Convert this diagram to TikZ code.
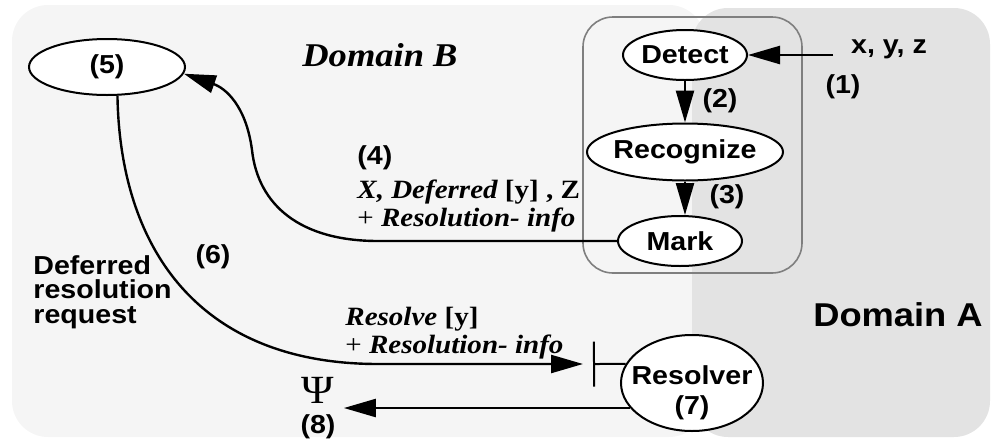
\documentclass[tikz,border=0pt]{standalone}
\usepackage{fontspec}
\setmainfont{Liberation Serif}[FakeStretch=1.1]
\newfontfamily\lsans{Liberation Sans}[FakeStretch=1.1]
\usetikzlibrary{shapes.geometric,arrows.meta}

\definecolor{domB}{HTML}{F5F5F5}
\definecolor{domA}{HTML}{E3E3E3}
\definecolor{grpline}{HTML}{7F7F7F}

\newcommand{\numfont}{\lsans\bfseries\upshape\fontsize{13}{15}\selectfont}
\newcommand{\msgfont}{\rmfamily\bfseries\itshape\fontsize{13.2}{14}\selectfont}
\newcommand{\upr}[1]{{\upshape #1}}

\begin{document}
\begin{tikzpicture}[x=0.5pt, y=-0.5pt]

\tikzstyle{oval}=[ellipse, draw, fill=white, line width=1pt, inner ysep=0pt, inner xsep=-8pt, font=\numfont]
\tikzstyle{numtxt}=[inner sep=0pt, font=\numfont]
\tikzstyle{msgtxt}=[inner sep=0pt, align=left, font=\msgfont]
\tikzstyle{arrow}=[-{Triangle[length=16pt,width=9pt]}, line width=1.2pt]

\useasboundingbox (0,0) rectangle (993,440);
\fill[domB, rounded corners=18pt] (12,5) rectangle (705,437);
\fill[domA, rounded corners=18pt] (692,8) rectangle (990,437);
\draw[grpline, line width=0.8pt, rounded corners=15pt] (583,17) rectangle (802,273);

\node (domb) [font=\rmfamily\bfseries\itshape\fontsize{16.6}{18}\selectfont, anchor=base] at (380,66) {Domain B};
\node (doma) [font=\lsans\bfseries\fontsize{16.5}{18}\selectfont, anchor=base] at (898,326) {Domain A};

\node (detect) [oval, minimum width=62pt, minimum height=25pt] at (685,55) {Detect};
\node (recog) [oval, minimum width=98pt, minimum height=28.5pt] at (685,152) {Recognize};
\node (mark) [oval, minimum width=62pt, minimum height=25pt] at (680,241) {Mark};
\node (resolver) [oval, minimum width=71pt, minimum height=48pt,
  label={[numtxt, align=center, yshift=-5pt]center:Resolver\\(7)}] at (692,383) {};
\node (n5) [oval, minimum width=78pt, minimum height=28pt] at (107,67) {(5)};

\node (xyz) [numtxt, anchor=base] at (889,53) {x, y, z};
\node (l1) [numtxt] at (843,87) {(1)};
\node (l2) [numtxt] at (720,101) {(2)};
\node (l3) [numtxt] at (727,197) {(3)};
\node (l6) [numtxt] at (213,257) {(6)};
\node (defreq) [numtxt, align=left, anchor=north west, font=\numfont\fontsize{13}{12.3}\selectfont] at (33,255) {Deferred\\resolution\\request};
\node (msg4) [msgtxt, anchor=north west] at (357,145) {{\numfont (4)}\\[3pt]X, Deferred \upr{[y] , Z}\\{\mdseries\upshape +} Resolution- info};
\node (msg6) [msgtxt, anchor=north west] at (345,307) {Resolve \upr{[y]}\\{\mdseries\upshape +} Resolution- info};
\node (psi) [align=center, inner sep=4pt] at (318,408) {{\fontsize{20}{20}\selectfont Ψ}\\[3pt]{\numfont (8)}};

\coordinate (in) at (833,55);
\coordinate (bar) at (593,364);

\draw [arrow] (in) -- (detect);
\draw [arrow] (detect) -- (recog);
\draw [arrow] (recog.south) -- (recog.south |- mark.north);
\draw [arrow] (mark.west) -- (378,241) .. controls (300,241) and (258,205) .. (252,150) .. controls (246,105) and (225,88) .. (n5.-5);
\draw [arrow] (n5.-70) .. controls (120,250) and (200,364) .. (378,364) -- ([xshift=-5pt]bar);
\draw [{Bar[width=22.5pt]}-, line width=1pt] (bar) -- (resolver.164);
\draw [arrow] (resolver.202) -- (resolver.202 -| psi.east);

\end{tikzpicture}
\end{document}
